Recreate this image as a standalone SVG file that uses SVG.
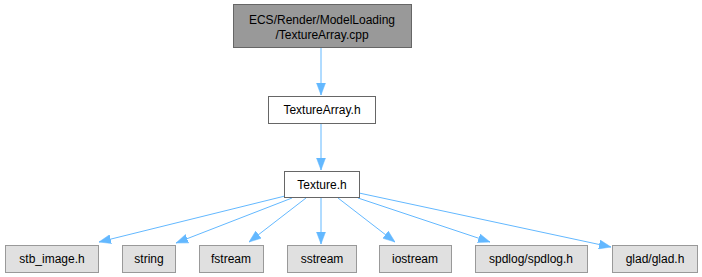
<svg xmlns="http://www.w3.org/2000/svg" width="702" height="277" viewBox="0 0 702 277">
  <style>
    text { font-family: "Liberation Sans", Arial, sans-serif; font-size: 12px; fill: #000; text-anchor: middle; }
    .main rect { fill: #999999; stroke: #666666; stroke-width: 1; }
    .inc rect { fill: #ffffff; stroke: #666666; stroke-width: 1; }
    .ext rect { fill: #e0e0e0; stroke: #999999; stroke-width: 1; }
    .edge { fill: none; stroke: #63b8ff; stroke-width: 1; marker-end: url(#arrow); }
  </style>
  <defs>
    <marker id="arrow" viewBox="0 0 12 10" refX="12" refY="5" markerWidth="12" markerHeight="10" markerUnits="userSpaceOnUse" orient="auto">
      <path d="M0,0.5 L12,5 L0,9.5 Z" fill="#63b8ff" stroke="#63b8ff" stroke-width="0.5"/>
    </marker>
  </defs>

  <g id="edges">
    <path class="edge" d="M321,48 L321,95"/>
    <path class="edge" d="M321,123 L321,170"/>
    <path class="edge" d="M285,196 L99,242"/>
    <path class="edge" d="M292,198 L176,243"/>
    <path class="edge" d="M306,198 L249,242"/>
    <path class="edge" d="M321,198 L321,244"/>
    <path class="edge" d="M338,198 L395,242"/>
    <path class="edge" d="M358,198 L490,242"/>
    <path class="edge" d="M359,193 L611,247"/>
  </g>

  <g id="node-texturearray-cpp" class="main">
    <rect x="233.5" y="4.5" width="178" height="43"/>
    <text x="322" y="24">ECS/Render/ModelLoading</text>
    <text x="322" y="39">/TextureArray.cpp</text>
  </g>
  <g id="node-texturearray-h" class="inc">
    <rect x="268.5" y="96.5" width="107" height="27"/>
    <text x="322" y="114">TextureArray.h</text>
  </g>
  <g id="node-texture-h" class="inc">
    <rect x="284.5" y="171.5" width="75" height="26"/>
    <text x="322" y="189">Texture.h</text>
  </g>
  <g id="node-stb-image" class="ext">
    <rect x="5.5" y="245.5" width="93" height="27"/>
    <text x="52" y="263">stb_image.h</text>
  </g>
  <g id="node-string" class="ext">
    <rect x="122.5" y="245.5" width="53" height="27"/>
    <text x="149" y="263">string</text>
  </g>
  <g id="node-fstream" class="ext">
    <rect x="199.5" y="245.5" width="64" height="27"/>
    <text x="231" y="263">fstream</text>
  </g>
  <g id="node-sstream" class="ext">
    <rect x="287.5" y="245.5" width="69" height="27"/>
    <text x="322" y="263">sstream</text>
  </g>
  <g id="node-iostream" class="ext">
    <rect x="379.5" y="245.5" width="72" height="27"/>
    <text x="415" y="263">iostream</text>
  </g>
  <g id="node-spdlog" class="ext">
    <rect x="475.5" y="245.5" width="112" height="27"/>
    <text x="531" y="263">spdlog/spdlog.h</text>
  </g>
  <g id="node-glad" class="ext">
    <rect x="612.5" y="245.5" width="85" height="27"/>
    <text x="655" y="263">glad/glad.h</text>
  </g>
</svg>
